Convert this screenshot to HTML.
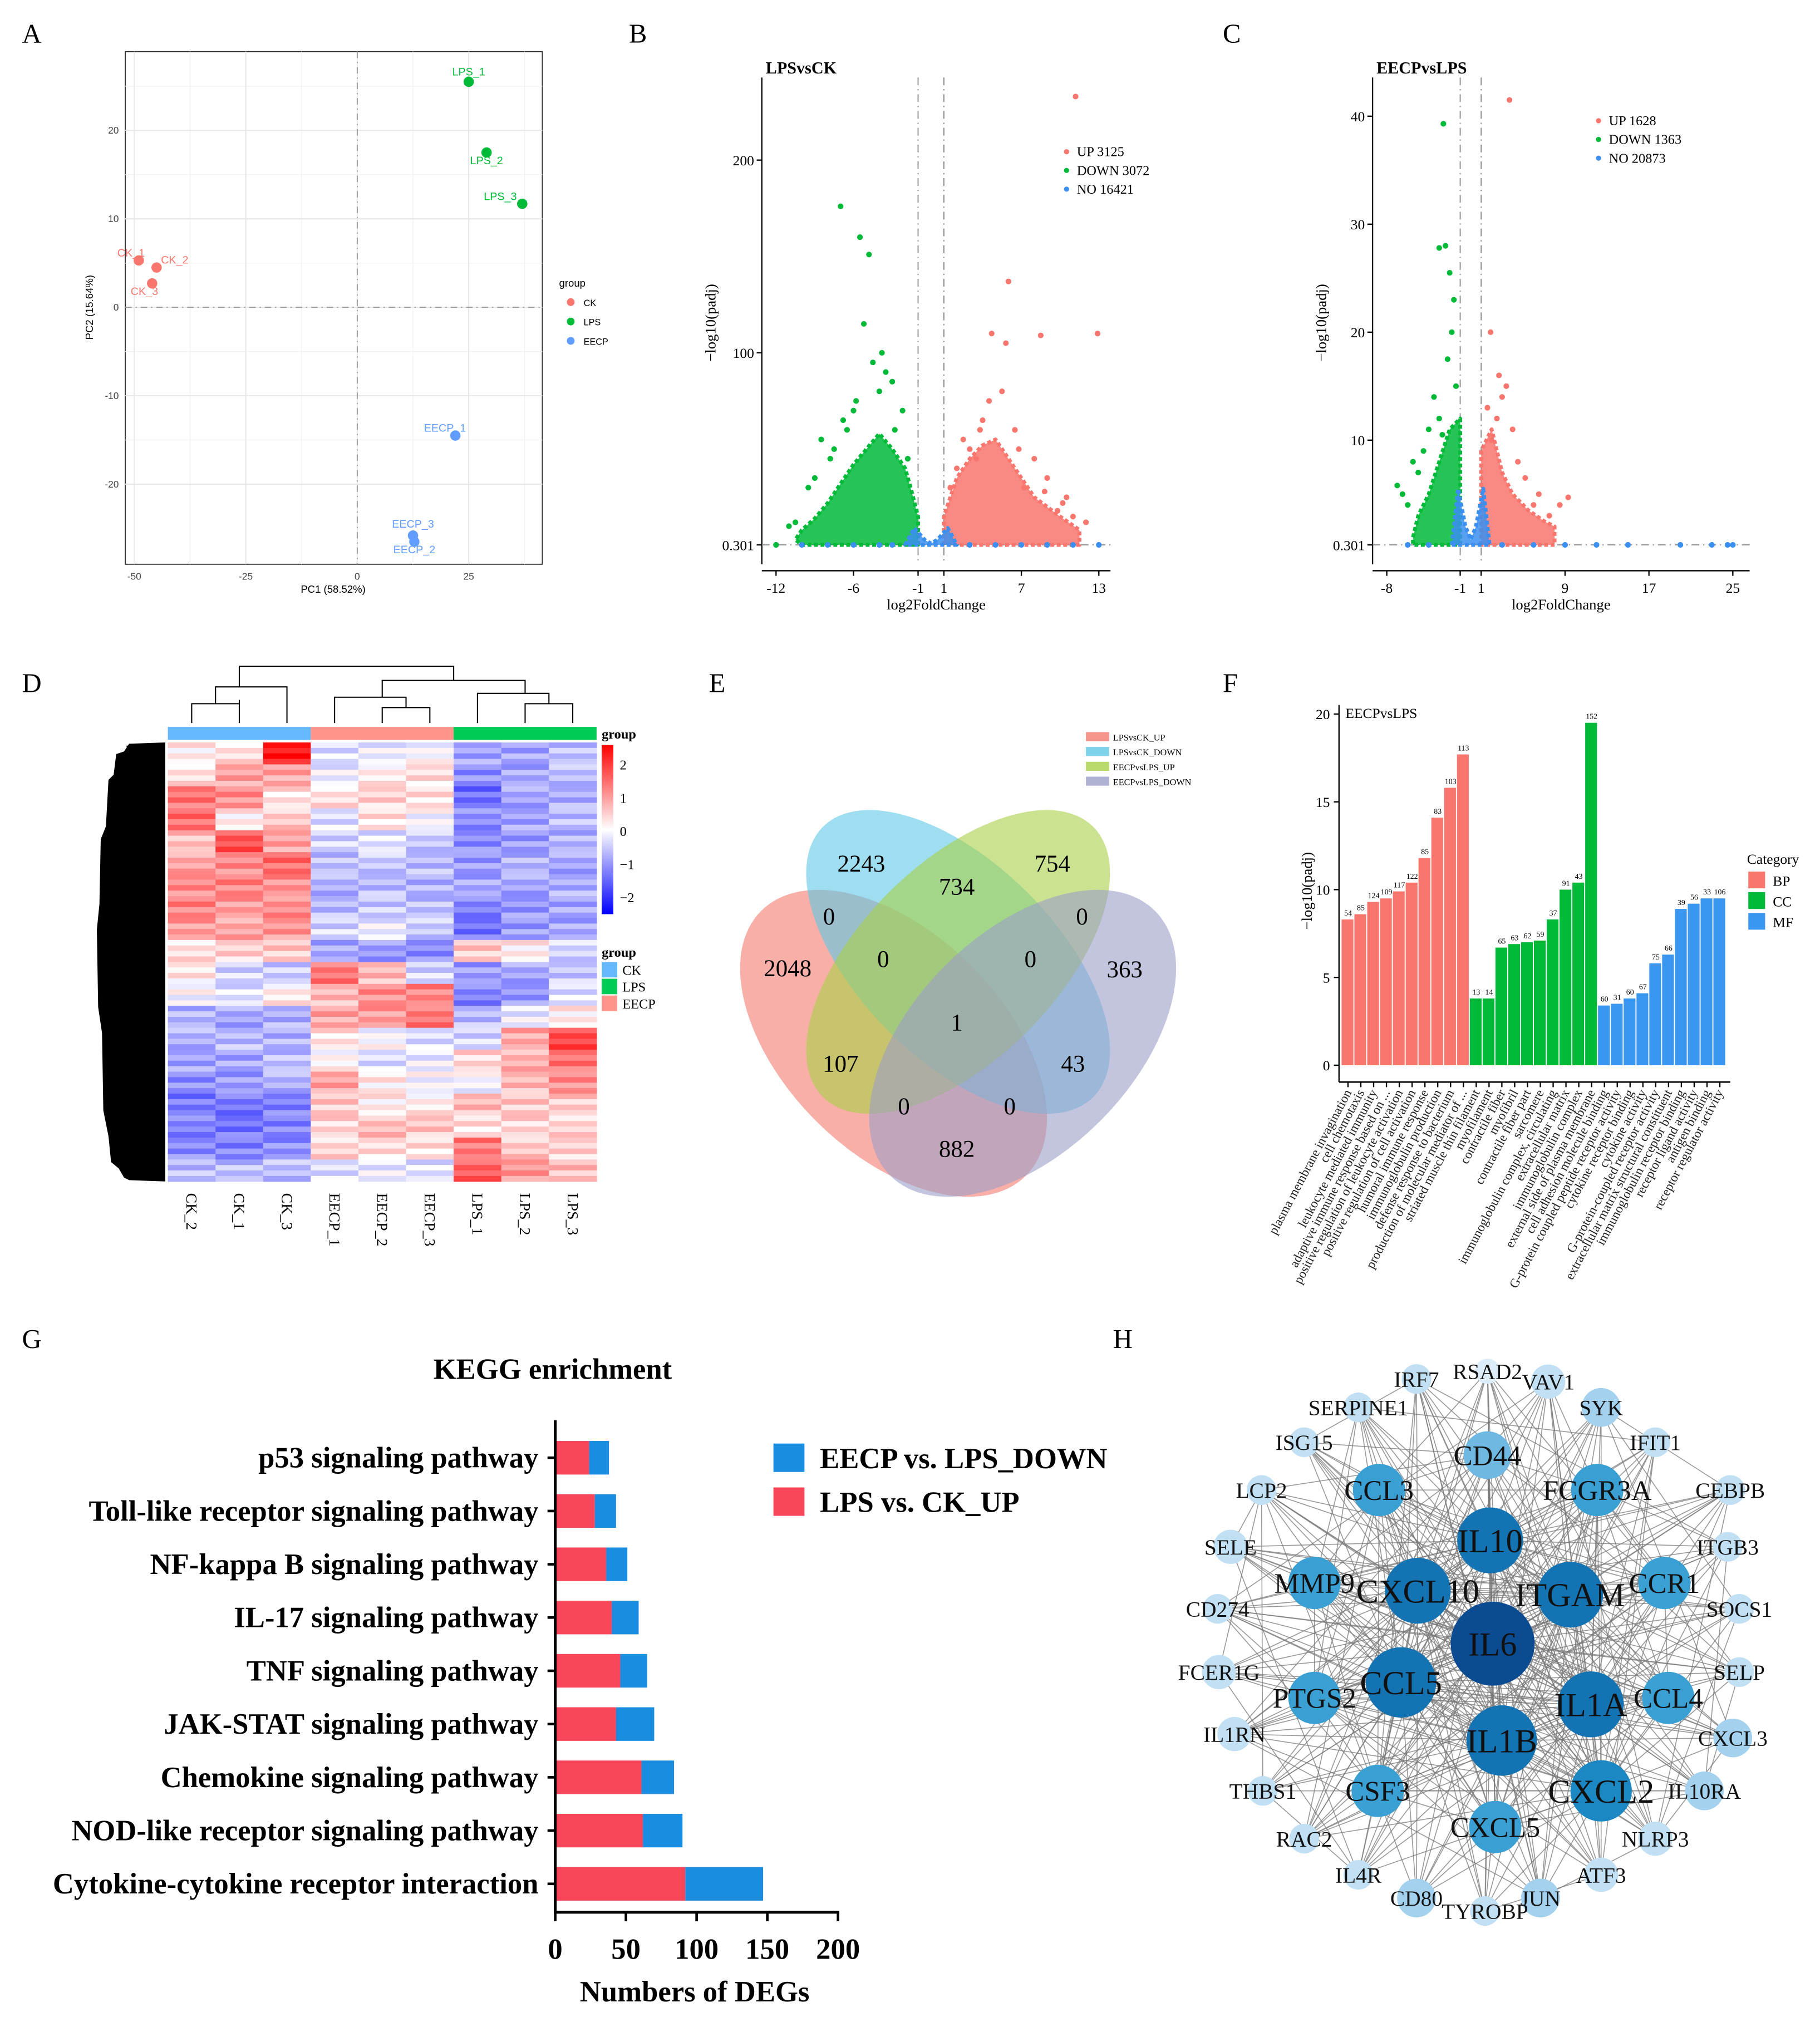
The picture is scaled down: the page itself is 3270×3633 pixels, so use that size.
<!DOCTYPE html>
<html><head><meta charset="utf-8">
<style>
html,body{margin:0;padding:0;background:#fff;}
svg{display:block;}
text{font-family:"Liberation Serif",serif;}
.sans{font-family:"Liberation Sans",sans-serif;}
</style></head>
<body>
<svg id="fig" width="3270" height="3633" viewBox="0 0 1409.5 1566" xmlns="http://www.w3.org/2000/svg">
<rect width="1409.5" height="1566" fill="#fff"/>
<g id="A"></g>
<g id="B"></g>
<g id="C"></g>
<g id="D"></g>
<g id="E"></g>
<g id="F"></g>
<g id="G"></g>
<g id="H"></g>
</svg>
<script>
// ---------- DATA ----------
// Panel A
const pcaNames=["CK_1","CK_2","CK_3","LPS_1","LPS_2","LPS_3","EECP_1","EECP_3","EECP_2"];
const pcaX=[-49,-45,-46,25,29,37,22,12.5,12.8];
const pcaY=[5.3,4.5,2.7,25.5,17.5,11.7,-14.5,-25.8,-26.5];
const pcaGroup=["CK","CK","CK","LPS","LPS","LPS","EECP","EECP","EECP"];
const pcaXTicks=[-50,-25,0,25];
const pcaYTicks=[-20,-10,0,10,20];
// Panel B volcano
const bUpX=[11.2,6,4.7,8.5,12.9,5.8,5.5,4.5,3.8,6.5,8,9,10.5,11,12,3,2.5,4,7.2,9.8,2,1.5,3.5,6.8,8.8,10.2];
const bUpY=[233,137,110,109,110,105,80,75,60,60,45,35,25,15,12,50,55,65,30,18,40,30,45,50,28,22];
const bUpEnvX=[1,1,1.5,2,3,4,5,6,7,8,10,11.5,11.5];
const bUpEnvY=[0.3,15,25,35,45,52,55,45,35,25,15,8,0.3];
const bDnX=[-7,-5.5,-4.8,-5.2,-4.5,-6.5,-8.5,-9.5,-7.5,-3,-3.5,-2.2,-4,-10.5,-11,-12,-3.8,-6,-1.8,-2.8,-7.8,-9,-6.8,-5.8];
const bDnY=[176,160,151,115,95,60,55,30,50,85,90,70,80,12,10,0.3,100,70,45,60,45,35,65,75];
const bDnEnvX=[-1,-1,-1.5,-2,-3,-4,-5,-6,-7,-8,-9,-10,-10.5,-10];
const bDnEnvY=[0.3,15,28,40,50,58,50,42,32,22,14,8,3,0.3];
const bNoEnvX=[-2,-1.3,-0.5,0,0.5,1.3,2];
const bNoEnvY=[0.3,9,3,1,3,9,0.3];
const bNoX=[-12,-10,-8,-6,-4,-3,3,5,7,9,11,13];
const bNoY=[0.3,0.3,0.3,0.3,0.3,0.3,0.3,0.3,0.3,0.3,0.3,0.3];
const bXTicks=[-12,-6,-1,1,7,13];
const bYTicks=[0.301,100,200];
// Panel C volcano
const cUpX=[3.7,1.9,3.4,2.7,3,2.5,4,6.5,9.3,8.5,2,4.5,5.2,1.6,6,7.5];
const cUpY=[41.5,20,15,16,14,12,11,5,4.7,4,10,8,6.5,13,4,3];
const cUpEnvX=[1,1,2,2.5,3,4,5.5,7,8,8];
const cUpEnvY=[0.3,9,11,9,7,5,3.5,2.5,2,0.3];
const cDnX=[-2.6,-3,-2.4,-2,-1.6,-1.8,-2.2,-1.4,-3.5,-7,-6.5,-5.5,-4,-3,-2.7,-4.5,-5,-6];
const cDnY=[39.3,27.8,28,25.5,23,20,17.5,15,14,5.8,5,8,11,12,10.5,9,7,4];
const cDnEnvX=[-1,-1,-2,-3,-4,-5,-5.5,-5.5];
const cDnEnvY=[0.3,12,11,8,5,3,1,0.3];
const cNoEnvX=[-1.8,-1.2,-0.5,0,0.5,1.2,1.8];
const cNoEnvY=[0.3,5.5,2,0.8,2,5.5,0.3];
const cNoX=[-6,-4,3,6,9,12,15,20,23,24.5,25];
const cNoY=[0.3,0.3,0.3,0.3,0.3,0.3,0.3,0.3,0.3,0.3,0.3];
const cXTicks=[-8,-1,1,9,17,25];
const cYTicks=[0.301,10,20,30,40];
// Panel D heatmap
const hmCols=["CK_2","CK_1","CK_3","EECP_1","EECP_2","EECP_3","LPS_1","LPS_2","LPS_3"];
const hmVals=[
[0.2,0.3,2,-0.3,-0.2,0,-0.8,-0.8,-0.6],
[0.3,0.8,0.8,-0.2,0.2,0.3,-1,-0.8,-0.6],
[1.2,1,0.3,0.3,0.4,0.3,-1.3,-0.8,-0.7],
[1.3,0.2,0.5,-0.3,0.3,0,-1,-0.8,-0.6],
[0.6,1.5,0.8,-0.4,-0.3,-0.5,-1,-0.9,-0.7],
[0.8,1,1.3,-0.6,-0.5,-0.6,-0.9,-0.7,-0.8],
[1,1.1,1,-0.7,-0.6,-0.7,-0.8,-0.8,-0.7],
[1.1,0.9,1,-0.6,-0.5,-0.6,-1.1,-0.9,-0.8],
[0.9,0.8,0.9,-0.4,-0.2,-0.5,-1.2,-0.9,-0.8],
[0.3,0.4,0.5,-0.8,-0.9,-1,0.5,0.2,-0.4],
[0.2,-0.4,-0.5,1.2,0.6,-0.4,-0.9,-0.8,-0.5],
[0,-0.3,0.2,0.6,1,1.1,-1.1,-0.9,-0.3],
[-0.7,-0.8,-0.7,0.8,0.9,1.2,-0.6,-0.2,0.2],
[-0.7,-0.6,-0.7,0.3,0,-0.3,-0.4,0.8,1.6],
[-0.8,-0.8,-0.6,0.1,-0.3,-0.2,0.4,0.7,1.2],
[-1,-0.9,-0.7,0.8,0.2,0,-0.1,0.6,1],
[-1.2,-1.2,-1.1,0.5,0.2,0.2,0.6,0.5,0.5],
[-1.1,-1.2,-1.1,0.4,0.6,0.5,0.3,0.4,0.4],
[-1,-1.1,-1,0.4,0.3,0.3,1.2,0.5,0.4],
[-0.6,-0.6,-0.6,-0.3,-0.2,-0.3,1.4,0.9,0.6]];
// Panel F
const goTerms=["plasma membrane invagination","cell chemotaxis","leukocyte mediated immunity","adaptive immune response based on ...","positive regulation of leukocyte activation","positive regulation of cell activation","humoral immune response","immunoglobulin production","defense response to bacterium","production of molecular mediator of ...","striated muscle thin filament","myofilament","contractile fiber","myofibril","contractile fiber part","sarcomere","immunoglobulin complex, circulating","extracellular matrix","immunoglobulin complex","external side of plasma membrane","cell adhesion molecule binding","G-protein coupled peptide receptor activity","cytokine receptor binding","cytokine activity","G-protein-coupled receptor activity","extracellular matrix structural constituent","immunoglobulin receptor binding","receptor ligand activity","antigen binding","receptor regulator activity"];
const goCat=["BP","BP","BP","BP","BP","BP","BP","BP","BP","BP","CC","CC","CC","CC","CC","CC","CC","CC","CC","CC","MF","MF","MF","MF","MF","MF","MF","MF","MF","MF"];
const goVal=[8.3,8.6,9.3,9.5,9.9,10.4,11.8,14.1,15.8,17.7,3.8,3.8,6.7,6.9,7.0,7.1,8.3,10.0,10.4,19.5,3.4,3.5,3.8,4.1,5.8,6.3,8.9,9.2,9.5,9.5];
const goCount=[54,85,124,109,117,122,85,83,103,113,13,14,65,63,62,59,37,91,43,152,60,31,60,67,75,66,39,56,33,106];
const goYTicks=[0,5,10,15,20];
// Panel G
const keggPath=["p53 signaling pathway","Toll-like receptor signaling pathway","NF-kappa B signaling pathway","IL-17 signaling pathway","TNF signaling pathway","JAK-STAT signaling pathway","Chemokine signaling pathway","NOD-like receptor signaling pathway","Cytokine-cytokine receptor interaction"];
const keggUp=[24,28,36,40,46,43,61,62,92];
const keggDown=[14,15,15,19,19,27,23,28,55];
const keggTicks=[0,50,100,150,200];
// Panel H
const netNames=["RSAD2","IRF7","VAV1","SERPINE1","SYK","ISG15","IFIT1","CD44","LCP2","CCL3","FCGR3A","CEBPB","IL10","SELE","ITGB3","MMP9","CXCL10","ITGAM","CCR1","CD274","SOCS1","IL6","FCER1G","SELP","PTGS2","CCL5","IL1A","CCL4","IL1RN","CXCL3","IL1B","THBS1","CSF3","CXCL2","IL10RA","CXCL5","RAC2","NLRP3","IL4R","ATF3","CD80","JUN","TYROBP"];
const netX=[1152,1097,1199,1052,1240,1010,1282,1152,977,1068,1237,1340,1154,953,1338,1018,1098,1216,1289,943,1347,1156,944,1347,1018,1085,1232,1292,956,1342,1163,978,1067,1240,1320,1158,1010,1282,1052,1240,1097,1193,1150];
const netY=[1062,1068,1070,1090,1090,1117,1117,1127,1154,1154,1154,1154,1193,1198,1198,1226,1232,1235,1226,1246,1246,1273,1295,1295,1315,1303,1320,1315,1343,1346,1348,1387,1387,1387,1387,1415,1424,1424,1452,1452,1470,1470,1480];
const netDeg=[1,2,3,2,4,2,2,6,2,7,7,2,10,3,2,7,10,10,7,2,2,14,3,2,7,11,10,7,3,4,11,2,7,9,4,7,2,3,2,3,4,4,2];

// ---------- HELPERS ----------
const NS="http://www.w3.org/2000/svg";
function mk(parent,tag,attrs,txt){const e=document.createElementNS(NS,tag);for(const k in attrs)e.setAttribute(k,attrs[k]);if(txt!==undefined)e.textContent=txt;parent.appendChild(e);return e;}
function lin(d0,d1,r0,r1){return v=>r0+(v-d0)*(r1-r0)/(d1-d0);}
function label(g,x,y,t){const e=mk(g,"text",{x:x,y:y,"font-size":21});e.textContent=t;

return e;}

// ---------- A ----------
(function(){
const g=document.getElementById("A");
label(g,17,33,"A");
const X=lin(-50,25,104,363),Y=lin(0,20,238,101);
mk(g,"rect",{x:97,y:40,width:323,height:397,fill:"#fff",stroke:"#333","stroke-width":0.8});
[-37.5,-12.5,12.5,37.5].forEach(v=>mk(g,"line",{x1:X(v),x2:X(v),y1:40,y2:437,stroke:"#f2f2f2","stroke-width":0.6}));
[-15,-5,5,15,25].forEach(v=>mk(g,"line",{y1:Y(v),y2:Y(v),x1:97,x2:420,stroke:"#f2f2f2","stroke-width":0.6}));
pcaXTicks.forEach(v=>{mk(g,"line",{x1:X(v),x2:X(v),y1:40,y2:437,stroke:"#e8e8e8","stroke-width":0.9});
const t=mk(g,"text",{x:X(v),y:449,"font-size":7.5,"text-anchor":"middle",fill:"#444",class:"sans"},v);

});
pcaYTicks.forEach(v=>{mk(g,"line",{y1:Y(v),y2:Y(v),x1:97,x2:420,stroke:"#e8e8e8","stroke-width":0.9});
const t=mk(g,"text",{x:92,y:Y(v)+2.5,"font-size":7.5,"text-anchor":"end",fill:"#444",class:"sans"},v);

});
mk(g,"line",{x1:X(0),x2:X(0),y1:40,y2:437,stroke:"#999","stroke-dasharray":"5,3,1,3","stroke-width":0.8});
mk(g,"line",{y1:Y(0),y2:Y(0),x1:97,x2:420,stroke:"#999","stroke-dasharray":"5,3,1,3","stroke-width":0.8});
const col={CK:"#f8766d",LPS:"#00ba38",EECP:"#619cff"};
pcaNames.forEach((n,i)=>{const c=mk(g,"circle",{cx:X(pcaX[i]),cy:Y(pcaY[i]),r:4,fill:col[pcaGroup[i]]});


const dy=(n==="LPS_1")?-5:(n==="EECP_2"||n==="LPS_2")?9:(n==="EECP_3")?-6:(n==="CK_3")?9:-3;
const dx=(n==="LPS_3")?-17:(n==="EECP_1")?-8:(n.startsWith("CK")?(n==="CK_2"?14:-6):0);
const t=mk(g,"text",{x:X(pcaX[i])+dx,y:Y(pcaY[i])+dy,"font-size":8.5,"text-anchor":"middle",fill:col[pcaGroup[i]],class:"sans"},n);

});
mk(g,"text",{x:258,y:459,"font-size":8,"text-anchor":"middle",class:"sans"},"PC1 (58.52%)");
mk(g,"text",{x:0,y:0,"font-size":8,"text-anchor":"middle",class:"sans",transform:"translate(72,238) rotate(-90)"},"PC2 (15.64%)");
mk(g,"text",{x:433,y:222,"font-size":8,class:"sans"},"group");
["CK","LPS","EECP"].forEach((k,i)=>{mk(g,"circle",{cx:442,cy:234+i*15,r:3,fill:col[k]});
const t=mk(g,"text",{x:452,y:237+i*15,"font-size":7,class:"sans"},k);

});
})();

// ---------- Volcano ----------
function volcano(id,opt){
const g=document.getElementById(id);
label(g,opt.lx,33,id);
const X=lin(opt.xd[0],opt.xd[1],opt.xr[0],opt.xr[1]),Y=lin(opt.yd[0],opt.yd[1],opt.yr[0],opt.yr[1]);
const ax=opt.axX,by=437;
mk(g,"line",{x1:ax,x2:ax,y1:60,y2:by,stroke:"#000","stroke-width":1});
mk(g,"line",{x1:ax,x2:opt.xEnd,y1:by+5,y2:by+5,stroke:"#000","stroke-width":1});
opt.xt.forEach(v=>{mk(g,"line",{x1:X(v),x2:X(v),y1:by+5,y2:by+9,stroke:"#000"});
const t=mk(g,"text",{x:X(v),y:by+22,"font-size":11,"text-anchor":"middle"},v);

});
opt.yt.forEach(v=>{mk(g,"line",{x1:ax-4,x2:ax,y1:Y(v),y2:Y(v),stroke:"#000"});
const t=mk(g,"text",{x:ax-6,y:Y(v)+4,"font-size":11,"text-anchor":"end"},v);

});
mk(g,"line",{x1:X(-1),x2:X(-1),y1:60,y2:by,stroke:"#888","stroke-dasharray":"6,3,1,3","stroke-width":0.8});
mk(g,"line",{x1:X(1),x2:X(1),y1:60,y2:by,stroke:"#888","stroke-dasharray":"6,3,1,3","stroke-width":0.8});
mk(g,"line",{x1:ax,x2:opt.xEnd,y1:Y(0.301),y2:Y(0.301),stroke:"#888","stroke-dasharray":"6,3,1,3","stroke-width":0.8});
function env(xs,ys,c,name){const p=xs.map((x,i)=>X(x)+","+Y(ys[i])).join(" ");
const e=mk(g,"polygon",{points:p,fill:c,"fill-opacity":0.85,stroke:c,"stroke-width":3,"stroke-linejoin":"round","stroke-dasharray":"3,2"});

}
function pts(xs,ys,c,name){xs.forEach((x,i)=>{const e=mk(g,"circle",{cx:X(x),cy:Y(ys[i]),r:2.2,fill:c});

});}
env(opt.dnEx,opt.dnEy,"#00ba38","down-point-cloud");
env(opt.upEx,opt.upEy,"#f8766d","up-point-cloud");
env(opt.noEx,opt.noEy,"#3a8ff0","no-point-cloud");
pts(opt.noX,opt.noY,"#3a8ff0","no-point");
pts(opt.dnX,opt.dnY,"#00ba38","down-point");
pts(opt.upX,opt.upY,"#f8766d","up-point");
mk(g,"text",{x:ax+3,y:57,"font-size":13,"font-weight":"bold"},opt.title);
mk(g,"text",{x:(ax+opt.xEnd)/2,y:472,"font-size":11.5,"text-anchor":"middle"},"log2FoldChange");
mk(g,"text",{x:0,y:0,"font-size":11.5,"text-anchor":"middle",transform:"translate("+(ax-36)+",250) rotate(-90)"},"\u2212log10(padj)");
const lc=["#f8766d","#00ba38","#3a8ff0"];
opt.leg.forEach((s,i)=>{mk(g,"circle",{cx:opt.legX,cy:opt.legY+i*14.5-3.5,r:2,fill:lc[i]});
const t=mk(g,"text",{x:opt.legX+8,y:opt.legY+i*14.5,"font-size":10.5},s);

});
}
volcano("B",{lx:487,xd:[-12,13],xr:[601,851],yd:[0.301,200],yr:[422,124],axX:590,xEnd:860,xt:bXTicks,yt:bYTicks,
upX:bUpX,upY:bUpY,upEx:bUpEnvX,upEy:bUpEnvY,dnX:bDnX,dnY:bDnY,dnEx:bDnEnvX,dnEy:bDnEnvY,noX:bNoX,noY:bNoY,noEx:bNoEnvX,noEy:bNoEnvY,
title:"LPSvsCK",leg:["UP 3125","DOWN 3072","NO 16421"],legX:826,legY:121});
volcano("C",{lx:947,xd:[-8,25],xr:[1074,1342],yd:[0.301,40],yr:[422,90],axX:1063,xEnd:1355,xt:cXTicks,yt:cYTicks,
upX:cUpX,upY:cUpY,upEx:cUpEnvX,upEy:cUpEnvY,dnX:cDnX,dnY:cDnY,dnEx:cDnEnvX,dnEy:cDnEnvY,noX:cNoX,noY:cNoY,noEx:cNoEnvX,noEy:cNoEnvY,
title:"EECPvsLPS",leg:["UP 1628","DOWN 1363","NO 20873"],legX:1238,legY:97});

// ---------- D heatmap ----------
(function(){
const g=document.getElementById("D");
label(g,17,536,"D");
const x0=130,x1=462,y0=575,y1=915,cw=(x1-x0)/9,rh=(y1-y0)/hmVals.length;
function col(v){v=Math.max(-2.2,Math.min(2.2,v));if(v>=0){const t=v/2.2;const gb=Math.round(255*(1-t));return "rgb(255,"+gb+","+gb+")";}
const t=-v/2.2;const rg=Math.round(255*(1-t));return "rgb("+rg+","+rg+",255)";}
hmVals.forEach((row,r)=>row.forEach((v,c)=>{
for(let s=0;s<4;s++){const jitter=[0.12,-0.15,0.05,-0.08][(s+r+c)%4];
const e=mk(g,"rect",{x:x0+c*cw,y:y0+r*rh+s*rh/4,width:cw+0.3,height:rh/4+0.3,fill:col(v+jitter*Math.sign(v||1)*2)});

}
}));
const gc=["#66b8ff","#ff958a","#00cc55"];
gc.forEach((c,i)=>mk(g,"rect",{x:x0+i*3*cw,y:563,width:3*cw,height:10,fill:c}));
hmCols.forEach((n,i)=>{const t=mk(g,"text",{x:0,y:0,"font-size":12,transform:"translate("+(x0+(i+0.5)*cw-4)+",924) rotate(90)"},n);

});
const cx=i=>x0+(i+0.5)*cw;
const p="M"+cx(0)+",560V545H"+cx(1)+"V560 M"+cx(1)+",545V542 M"+((cx(0)+cx(1))/2)+",545V532H"+cx(2)+"V560"+
" M"+cx(3)+",560V540H"+((cx(4)+cx(5))/2)+"V548 M"+cx(4)+",560V548H"+cx(5)+"V560"+
" M"+cx(6)+",560V537H"+((cx(7)+cx(8))/2)+"V545 M"+cx(7)+",560V545H"+cx(8)+"V560"+
" M"+((cx(0)+cx(2))/2)+",532V516H"+((cx(3)+cx(8))/2)+"V527 M"+((cx(3)+cx(5))/2)+",540V527H"+((cx(6)+cx(8))/2)+"V537";
mk(g,"path",{d:p,fill:"none",stroke:"#000","stroke-width":0.9});
// row dendrogram (dense black mass)
const rdPts="128,575 100,576 96,582 90,584 88,600 84,604 82,640 78,650 77,700 75,720 76,780 79,800 80,860 84,880 86,900 92,905 96,912 100,914 128,915";
const rdg=mk(g,"polygon",{points:rdPts,fill:"#000"});


let rd="";
for(let i=0;i<40;i++){const y=y0+i*8.5+3;const w=2+((i*37)%9);rd+="M"+(100-w)+","+y+"H100 ";}
mk(g,"path",{d:rd,fill:"none",stroke:"#000","stroke-width":1});
const grd=mk(g,"linearGradient",{id:"hmg",x1:0,y1:0,x2:0,y2:1});
[["0","#ff0000"],["0.5","#ffffff"],["1","#0000ff"]].forEach(s=>mk(grd,"stop",{offset:s[0],"stop-color":s[1]}));
mk(g,"text",{x:466,y:572,"font-size":10.5,"font-weight":"bold"},"group");
mk(g,"rect",{x:466,y:577,width:9,height:131,fill:"url(#hmg)"});
[2,1,0,-1,-2].forEach((v,i)=>mk(g,"text",{x:480,y:596+i*25.7,"font-size":10.5},v<0?"\u2212"+(-v):v));
mk(g,"text",{x:466,y:741,"font-size":10.5,"font-weight":"bold"},"group");
[["CK","#66b8ff"],["LPS","#00cc55"],["EECP","#ff958a"]].forEach((k,i)=>{mk(g,"rect",{x:466,y:745+i*13,width:12,height:12,fill:k[1]});
const t=mk(g,"text",{x:482,y:755+i*13,"font-size":10.5},k[0]);

});
})();

// ---------- E venn ----------
(function(){
const g=document.getElementById("E");
label(g,549,536,"E");
const ells=[["#f47a6e",692,808,145,85,45,"venn-lpsvsck-up"],["#5ec8e6",742,745,148,76,45,"venn-lpsvsck-down"],["#a9d046",742,745,148,76,-45,"venn-eecpvslps-up"],["#9b9fc8",792,808,145,85,-45,"venn-eecpvslps-down"]];
ells.forEach(e=>{const el=mk(g,"ellipse",{cx:e[1],cy:e[2],rx:e[3],ry:e[4],fill:e[0],"fill-opacity":0.6,transform:"rotate("+e[5]+" "+e[1]+" "+e[2]+")"});

});
const nums=[["2243",667,675],["734",741,693],["754",815,675],["0",642,716],["0",838,716],["2048",610,756],["0",684,749],["0",798,749],["363",871,757],["1",741,798],["107",651,830],["43",831,830],["0",700,863],["0",782,863],["882",741,896]];
nums.forEach(n=>{const t=mk(g,"text",{x:n[1],y:n[2],"font-size":18.5,"text-anchor":"middle"},n[0]);

});
[["#f47a6e","LPSvsCK_UP"],["#5ec8e6","LPSvsCK_DOWN"],["#a9d046","EECPvsLPS_UP"],["#9b9fc8","EECPvsLPS_DOWN"]].forEach((l,i)=>{
mk(g,"rect",{x:841,y:567+i*11.5,width:18,height:7,fill:l[0],"fill-opacity":0.8});
const t=mk(g,"text",{x:862,y:573.5+i*11.5,"font-size":7},l[1]);

});
})();

// ---------- F ----------
(function(){
const g=document.getElementById("F");
label(g,947,536,"F");
const Y=lin(0,20,825,553),x0=1039,bw=9.93;
const cc={BP:"#f8766d",CC:"#00ba38",MF:"#3a96ee"};
goVal.forEach((v,i)=>{const r=mk(g,"rect",{x:x0+i*bw,y:Y(v),width:bw-0.8,height:825-Y(v),fill:cc[goCat[i]]});


const t=mk(g,"text",{x:x0+i*bw+bw/2,y:Y(v)-3,"font-size":6,"text-anchor":"middle"},goCount[i]);


mk(g,"line",{x1:x0+i*bw+bw/2,x2:x0+i*bw+bw/2,y1:838,y2:842,stroke:"#000"});
const l=mk(g,"text",{x:0,y:0,"font-size":10,"text-anchor":"end",fill:"#222",transform:"translate("+(x0+i*bw+bw/2+3)+",846) rotate(-62)"},goTerms[i]);

});
mk(g,"line",{x1:1037,x2:1037,y1:546,y2:838,stroke:"#000","stroke-width":1});
mk(g,"line",{x1:1037,x2:1340,y1:838,y2:838,stroke:"#000","stroke-width":1.2});
goYTicks.forEach(v=>{mk(g,"line",{x1:1033,x2:1037,y1:Y(v),y2:Y(v),stroke:"#000"});
const t=mk(g,"text",{x:1030,y:Y(v)+4,"font-size":11,"text-anchor":"end"},v);

});
mk(g,"text",{x:1042,y:556,"font-size":11},"EECPvsLPS");
mk(g,"text",{x:0,y:0,"font-size":11.5,"text-anchor":"middle",transform:"translate(1016,690) rotate(-90)"},"\u2212log10(padj)");
mk(g,"text",{x:1353,y:669,"font-size":11},"Category");
["BP","CC","MF"].forEach((k,i)=>{mk(g,"rect",{x:1354,y:675+i*16,width:13,height:13,fill:cc[k]});
const t=mk(g,"text",{x:1373,y:686+i*16,"font-size":11},k);

});
})();

// ---------- G ----------
(function(){
const g=document.getElementById("G");
label(g,17,1044,"G");
const X=lin(0,200,430,649);
const yc=i=>1129+i*41.25;
const FS=22.7;
mk(g,"text",{x:428,y:1068,"font-size":FS,"font-weight":"bold","text-anchor":"middle"},"KEGG enrichment");
keggPath.forEach((p,i)=>{
const r1=mk(g,"rect",{x:X(0),y:yc(i)-13,width:X(keggUp[i])-X(0),height:26,fill:"#f7455a"});


const r2=mk(g,"rect",{x:X(keggUp[i]),y:yc(i)-13,width:X(keggUp[i]+keggDown[i])-X(keggUp[i]),height:26,fill:"#1b8de0"});


const t=mk(g,"text",{x:417,y:yc(i)+7.5,"font-size":FS,"font-weight":"bold","text-anchor":"end"},p);


mk(g,"line",{x1:424,x2:430,y1:yc(i),y2:yc(i),stroke:"#000","stroke-width":2});});
mk(g,"line",{x1:430,x2:430,y1:1100,y2:1482,stroke:"#000","stroke-width":2.2});
mk(g,"line",{x1:429,x2:650,y1:1481,y2:1481,stroke:"#000","stroke-width":2.2});
keggTicks.forEach(v=>{mk(g,"line",{x1:X(v),x2:X(v),y1:1481,y2:1488,stroke:"#000","stroke-width":2});
const t=mk(g,"text",{x:X(v),y:1517,"font-size":FS,"font-weight":"bold","text-anchor":"middle"},v);

});
mk(g,"text",{x:538,y:1550,"font-size":FS,"font-weight":"bold","text-anchor":"middle"},"Numbers of DEGs");
mk(g,"rect",{x:599,y:1118,width:24,height:22,fill:"#1b8de0"});
mk(g,"text",{x:635,y:1137,"font-size":FS,"font-weight":"bold"},"EECP vs. LPS_DOWN");
mk(g,"rect",{x:599,y:1152,width:24,height:22,fill:"#f7455a"});
mk(g,"text",{x:635,y:1171,"font-size":FS,"font-weight":"bold"},"LPS vs. CK_UP");
})();

// ---------- H ----------
(function(){
const g=document.getElementById("H");
label(g,862,1044,"H");
const eg=mk(g,"g",{});
const n=netNames.length;
for(let i=0;i<n;i++)for(let j=i+1;j<n;j++){
const hub=netDeg[i]>=9||netDeg[j]>=9;const mid=netDeg[i]>=5&&netDeg[j]>=5;
if(hub||mid||((i*7+j*13)%9===0)){const e=mk(eg,"line",{x1:netX[i],y1:netY[i],x2:netX[j],y2:netY[j],stroke:"#777","stroke-width":0.7,"stroke-opacity":0.75});

}}
const cols=["#dcedf9","#c2e0f4","#a3d1ee","#6fb8e2","#3aa0d4","#1b88c3","#1473b3","#0c5ea3","#0a4b91"];
netNames.forEach((nm,i)=>{const d=netDeg[i];const r=8+d*1.75;
const ci=Math.min(8,Math.floor(d*0.6));
const c=mk(g,"circle",{cx:netX[i],cy:netY[i],r:r,fill:cols[ci]});


const fs=d>=9?26:d>=5?22:17;
const t=mk(g,"text",{x:netX[i],y:netY[i]+fs*0.35,"font-size":fs,"text-anchor":"middle",fill:"#111"},nm);

});
})();
</script>
</body></html>
